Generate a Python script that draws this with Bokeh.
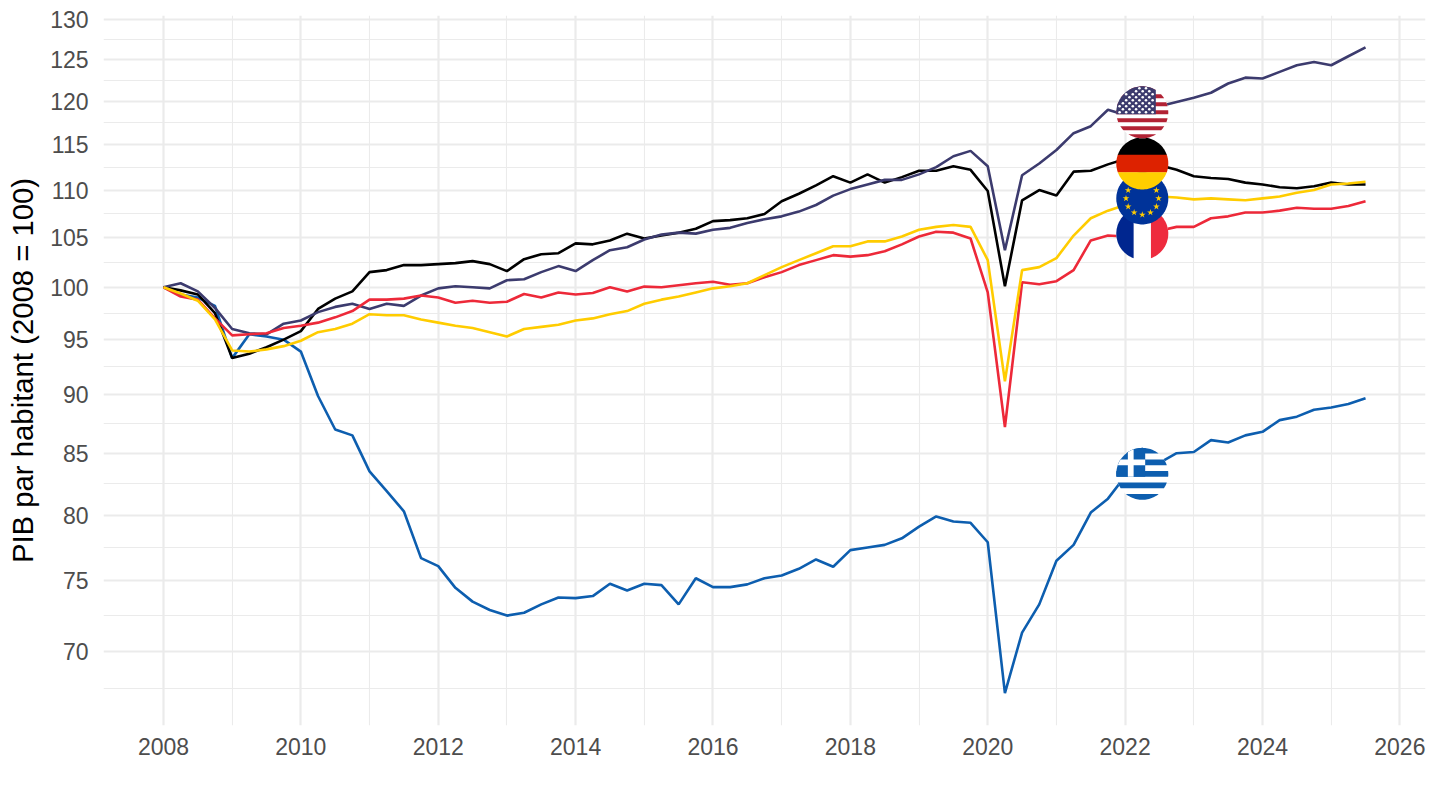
import math
import numpy as np
from bokeh.embed import file_html
from bokeh.resources import INLINE
from bokeh.plotting import figure
from bokeh.models import FixedTicker, Range1d, NumeralTickFormatter

greece = [100, 99.3, 99, 98.2, 93.3, 95.5, 95.3, 95, 93.9, 89.9, 87, 86.5, 83.5, 81.9, 80.3, 76.7, 76.1, 74.5, 73.5, 72.9, 72.5, 72.7, 73.3, 73.8, 73.75, 73.9, 74.8, 74.3, 74.8, 74.7, 73.3, 75.2, 74.55, 74.55, 74.75, 75.2, 75.4, 75.9, 76.6, 76.05, 77.3, 77.5, 77.7, 78.2, 79.1, 79.9, 79.5, 79.4, 77.9, 67.2, 71.3, 73.3, 76.5, 77.7, 80.2, 81.3, 83.1, 83.3, 84.2, 85, 85.1, 86.1, 85.9, 86.5, 86.8, 87.8, 88.1, 88.7, 88.9, 89.2, 89.7]
germany = [100, 99.7, 99.3, 97.5, 93.3, 93.7, 94.3, 95, 95.8, 97.9, 98.9, 99.6, 101.5, 101.7, 102.2, 102.2, 102.3, 102.4, 102.6, 102.3, 101.6, 102.8, 103.3, 103.4, 104.4, 104.3, 104.7, 105.4, 104.9, 105.2, 105.5, 105.9, 106.7, 106.8, 107, 107.45, 108.8, 109.6, 110.5, 111.5, 110.8, 111.7, 110.8, 111.4, 112.1, 112.1, 112.6, 112.2, 109.9, 100.1, 108.9, 110, 109.4, 112, 112.1, 112.8, 113.4, 112.9, 112.7, 112.2, 111.5, 111.3, 111.2, 110.8, 110.6, 110.3, 110.2, 110.4, 110.8, 110.6, 110.6]
usa = [100, 100.4, 99.6, 98, 96, 95.6, 95.5, 96.5, 96.8, 97.6, 98.1, 98.4, 97.9, 98.4, 98.2, 99.2, 99.9, 100.1, 100, 99.9, 100.7, 100.8, 101.5, 102.1, 101.6, 102.7, 103.7, 104, 104.8, 105.3, 105.5, 105.4, 105.8, 106, 106.5, 106.9, 107.2, 107.7, 108.4, 109.4, 110.1, 110.6, 111.1, 111.1, 111.7, 112.5, 113.7, 114.3, 112.6, 103.7, 111.6, 112.9, 114.4, 116.3, 117.1, 119, 118.4, 118.7, 119.4, 119.9, 120.4, 121, 122.1, 122.8, 122.7, 123.5, 124.3, 124.7, 124.3, 125.4, 126.5]
france = [100, 99.1, 98.8, 97, 95.4, 95.5, 95.6, 96.1, 96.3, 96.6, 97.1, 97.7, 98.8, 98.8, 98.9, 99.2, 99, 98.5, 98.7, 98.5, 98.6, 99.35, 99, 99.5, 99.3, 99.45, 100, 99.6, 100.07, 100, 100.2, 100.4, 100.55, 100.26, 100.4, 101, 101.5, 102.2, 102.7, 103.2, 103.05, 103.2, 103.6, 104.3, 105.1, 105.6, 105.5, 104.9, 99.5, 87.2, 100.5, 100.3, 100.6, 101.7, 104.7, 105.2, 105.1, 105.4, 105.7, 106.1, 106.1, 107, 107.2, 107.6, 107.6, 107.8, 108.1, 108, 108, 108.3, 108.8]
europe = [100, 99.4, 98.7, 96.9, 94, 93.9, 94.1, 94.4, 94.9, 95.7, 96, 96.5, 97.4, 97.3, 97.3, 96.9, 96.6, 96.3, 96.1, 95.7, 95.3, 96, 96.2, 96.4, 96.8, 97, 97.4, 97.7, 98.4, 98.8, 99.1, 99.5, 99.9, 100.1, 100.4, 101.2, 102, 102.7, 103.4, 104.1, 104.1, 104.6, 104.6, 105.1, 105.8, 106.1, 106.3, 106.1, 102.7, 91.2, 101.7, 102, 102.9, 105.2, 107, 107.8, 108.4, 109.1, 109.3, 109.2, 109, 109.1, 109, 108.9, 109.1, 109.3, 109.7, 110, 110.6, 110.7, 110.9]
quarters = list(np.arange(2008, 2025.75, 0.25))

y_major = [70, 75, 80, 85, 90, 95, 100, 105, 110, 115, 120, 125, 130]
y_minor = [67.5, 72.5, 77.5, 82.5, 87.5, 92.5, 97.5, 102.5, 107.5, 112.5, 117.5, 122.5, 127.5]
x_major = [2008, 2010, 2012, 2014, 2016, 2018, 2020, 2022, 2024, 2026]
x_minor = [2009, 2011, 2013, 2015, 2017, 2019, 2021, 2023, 2025]
y_label = "PIB par habitant (2008 = 100)"
flag_quarter = 2022.25

for s in (greece, germany, usa, france, europe):
    assert len(s) == len(quarters), len(s)

X0, X1 = 2007.127, 2026.373
Y0, Y1 = 65.1, 130.51
FW, FH = 1322, 710
PX = FW / (X1 - X0)
PY = FH / math.log(Y1 / Y0)

p = figure(width=1432, height=794, output_backend="svg", toolbar_location=None,
           y_axis_type="log", x_range=Range1d(X0, X1), y_range=Range1d(Y0, Y1),
           min_border_left=103, min_border_right=7, min_border_top=15, min_border_bottom=69,
           background_fill_color="white", border_fill_color="white", outline_line_color=None)

GRID = "#EBEBEB"
p.xaxis.ticker = FixedTicker(ticks=x_major, minor_ticks=x_minor)
p.yaxis.ticker = FixedTicker(ticks=y_major, minor_ticks=y_minor)
p.yaxis.formatter = NumeralTickFormatter(format="0")
for g in (p.xgrid[0], p.ygrid[0]):
    g.grid_line_color = GRID
    g.grid_line_width = 2.2
    g.minor_grid_line_color = GRID
    g.minor_grid_line_width = 1.1
p.xgrid[0].ticker = FixedTicker(ticks=x_major, minor_ticks=x_minor)
p.ygrid[0].ticker = FixedTicker(ticks=y_major, minor_ticks=y_minor)

for ax in (p.xaxis[0], p.yaxis[0]):
    ax.axis_line_color = None
    ax.major_tick_line_color = None
    ax.minor_tick_line_color = None
    ax.major_tick_out = 0
    ax.major_tick_in = 0
    ax.minor_tick_out = 0
    ax.minor_tick_in = 0
    ax.major_label_text_font = "Liberation Sans"
    ax.major_label_text_font_size = "23px"
    ax.major_label_text_color = "#4D4D4D"
p.xaxis[0].major_label_standoff = 12
p.yaxis[0].major_label_standoff = 15
p.yaxis[0].axis_label = y_label
p.yaxis[0].axis_label_text_font = "Liberation Sans"
p.yaxis[0].axis_label_text_font_style = "normal"
p.yaxis[0].axis_label_text_font_size = "29.3px"
p.yaxis[0].axis_label_text_color = "black"
p.yaxis[0].axis_label_standoff = 8

LW = 2.6
p.line(quarters, greece, line_color="#0D5EAF", line_width=LW)
p.line(quarters, germany, line_color="#000000", line_width=LW)
p.line(quarters, usa, line_color="#3C3B6E", line_width=LW)
p.line(quarters, france, line_color="#ED2939", line_width=LW)
p.line(quarters, europe, line_color="#FFCC00", line_width=LW)

# --- flags, drawn as vector shapes at the 2022 Q2 point of each series ---
R = 26.0


def clip(poly, x0, x1, y0, y1):
    """Clip a polygon (px offsets) to a rectangle."""
    tests = [(lambda q: q[0] >= x0, 0, x0), (lambda q: q[0] <= x1, 0, x1),
             (lambda q: q[1] >= y0, 1, y0), (lambda q: q[1] <= y1, 1, y1)]
    for inside, axis, lim in tests:
        out = []
        for i, b in enumerate(poly):
            a = poly[i - 1]
            ia, ib = inside(a), inside(b)
            if ia != ib:
                t = (lim - a[axis]) / (b[axis] - a[axis])
                out.append((a[0] + t * (b[0] - a[0]), a[1] + t * (b[1] - a[1])))
            if ib:
                out.append(b)
        poly = out
        if not poly:
            break
    return poly


CIRCLE = [(R * math.cos(2 * math.pi * k / 120), R * math.sin(2 * math.pi * k / 120)) for k in range(120)]


class Flag:
    def __init__(self, value):
        self.xc = flag_quarter
        self.yc = value

    def dx(self, px):
        return self.xc + px / PX

    def dy(self, px):
        return self.yc * math.exp(px / PY)

    def rect(self, color, left, right, top, bottom):
        """Offsets from the circle's left edge and top edge, in px."""
        poly = clip(CIRCLE, left - R, right - R, R - bottom, R - top)
        if poly:
            p.patch([self.dx(q[0]) for q in poly], [self.dy(q[1]) for q in poly],
                    fill_color=color, line_color=None)

    def marks(self, pts, marker, size, color):
        p.scatter([self.dx(a) for a, b in pts], [self.dy(b) for a, b in pts],
                  marker=marker, size=size, fill_color=color, line_color=None)


D = 2 * R

# France
f = Flag(france[quarters.index(flag_quarter)])
f.rect("#FFFFFF", 0, D, 0, D)
f.rect("#00268F", 0, D / 3, 0, D)
f.rect("#EE2B3E", 2 * D / 3, D, 0, D)

# Europe
f = Flag(europe[quarters.index(flag_quarter)])
f.rect("#003399", 0, D, 0, D)
f.marks([(16.3 * math.cos(math.pi * k / 6), 16.3 * math.sin(math.pi * k / 6)) for k in range(12)],
        "star", 7, "#FFCC00")

# Germany
f = Flag(germany[quarters.index(flag_quarter)])
f.rect("#000000", 0, D, 0, D / 3 + 0.3)
f.rect("#DD2200", 0, D, D / 3, 2 * D / 3 + 0.3)
f.rect("#FFCE00", 0, D, 2 * D / 3, D)

# United States
f = Flag(usa[quarters.index(flag_quarter)])
f.rect("#FFFFFF", 0, D, 0, D)
for k in range(0, 13, 2):
    f.rect("#B22234", 0, D, k * D / 13, (k + 1) * D / 13)
f.rect("#3C3B6E", 0, 0.76 * D, 0, 7 * D / 13)
dots = []
for row in range(9):
    for col in range(6 if row % 2 == 0 else 5):
        dots.append((-R + 3.3 + (col + (0 if row % 2 == 0 else 0.5)) * 6.6, R - 2.0 - row * 3.0))
dots = [d for d in dots if d[0] ** 2 + d[1] ** 2 < (R - 1.5) ** 2]
f.marks(dots, "circle", 2.6, "#FFFFFF")

# Greece
f = Flag(greece[quarters.index(flag_quarter)])
f.rect("#FFFFFF", 0, D, 0, D)
S = D / 9
for k in range(0, 9, 2):
    f.rect("#0D5EAF", 0, D, k * S, (k + 1) * S)
f.rect("#0D5EAF", 0, 5 * S, 0, 5 * S)
f.rect("#FFFFFF", 0, 5 * S, 2 * S, 3 * S)
f.rect("#FFFFFF", 2 * S, 3 * S, 0, 5 * S)

open("out.html", "w").write(file_html(p, INLINE))
